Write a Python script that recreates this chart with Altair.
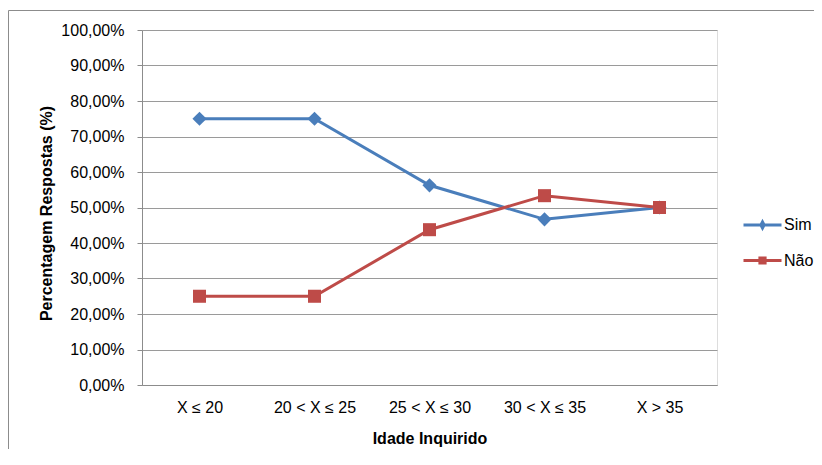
import altair as alt
import pandas as pd

categories = ["X ≤ 20", "20 < X ≤ 25", "25 < X ≤ 30", "30 < X  ≤ 35", "X > 35"]
series_names = ["Sim", "Não"]
sim_values = [75.0, 75.0, 56.25, 46.67, 50.0]
nao_values = [25.0, 25.0, 43.75, 53.33, 50.0]
y_ticks = [0, 10, 20, 30, 40, 50, 60, 70, 80, 90, 100]
colors = ["#4A7EBB", "#BE4B48"]

rows = []
for i, (c, s, n) in enumerate(zip(categories, sim_values, nao_values)):
    rows.append({"Idade": c, "Serie": "Sim", "Valor": s, "idx": i})
    rows.append({"Idade": c, "Serie": "Não", "Valor": n, "idx": i})
df = pd.DataFrame(rows)

FONT = "Liberation Sans"

x_enc = alt.X(
    "Idade:N",
    sort=categories,
    scale=alt.Scale(type="point", padding=0.5),
    axis=alt.Axis(
        title="Idade Inquirido",
        titleFont=FONT, titleFontSize=16, titleFontWeight="bold", titleColor="#000000",
        titleX=287.5, titleY=53, titleAlign="center", titleBaseline="middle",
        labelFont=FONT, labelFontSize=16, labelColor="#000000", labelAngle=0,
        labelPadding=14, ticks=False, grid=False,
        domainColor="#8c8c8c", domainWidth=1,
    ),
)
y_enc = alt.Y(
    "Valor:Q",
    scale=alt.Scale(domain=[0, 100], nice=False),
    axis=alt.Axis(
        title="Percentagem Respostas (%)",
        titleFont=FONT, titleFontSize=16, titleFontWeight="bold", titleColor="#000000",
        titleX=-96, titleY=183, titleAlign="center", titleBaseline="middle", titleAngle=270,
        values=y_ticks, tickCount=11, labelOverlap=False,
        labelExpr="replace(format(datum.value, '.2f'), '.', ',') + '%'",
        labelFont=FONT, labelFontSize=16, labelColor="#000000",
        labelPadding=13, tickSize=5, tickColor="#8c8c8c",
        grid=True, gridColor="#9a9a9a", gridWidth=1,
        domainColor="#8c8c8c", domainWidth=1,
    ),
)

color_scale = alt.Scale(domain=series_names, range=colors)

sym_sim = "M-1.9,0H1.9M0,-0.3L0.16,0L0,0.3L-0.16,0Z"
sym_nao = "M-1.9,0H1.9M-0.26,-0.26H0.26V0.26H-0.26Z"
leg = alt.Legend(
    title=None, orient="none", legendX=609, legendY=183.5,
    labelFont=FONT, labelFontSize=16, labelColor="#000000",
    symbolSize=400, symbolStrokeWidth=3, symbolOpacity=1,
    rowPadding=14.5, labelOffset=10, padding=0,
)

lines = alt.Chart(df).mark_line(strokeWidth=3).encode(
    x=x_enc, y=y_enc,
    stroke=alt.Stroke("Serie:N", scale=color_scale, legend=leg),
    order=alt.Order("idx:Q"),
)

pts_sim = alt.Chart(df).transform_filter(alt.datum.Serie == "Sim").mark_point(
    shape="diamond", filled=True, size=200, opacity=1
).encode(
    x=x_enc, y=y_enc,
    fill=alt.Fill("Serie:N", scale=color_scale, legend=leg),
)
pts_nao = alt.Chart(df).transform_filter(alt.datum.Serie == "Não").mark_point(
    shape="square", filled=True, size=170, opacity=1
).encode(
    x=x_enc, y=y_enc,
    fill=alt.Fill("Serie:N", scale=color_scale, legend=leg),
)

legend_df = pd.DataFrame({"Serie": series_names, "Idade": [categories[0]] * 2, "Valor": [-50.0, -50.0]})
legend_layer = alt.Chart(legend_df).mark_point(
    clip=True, filled=True, size=400, opacity=1, strokeWidth=3
).encode(
    x=x_enc,
    y=y_enc,
    fill=alt.Fill("Serie:N", scale=color_scale, legend=leg),
    stroke=alt.Stroke("Serie:N", scale=color_scale, legend=leg),
    shape=alt.Shape(
        "Serie:N",
        scale=alt.Scale(domain=series_names, range=[sym_sim, sym_nao]),
        legend=leg,
    ),
)

frame_df = pd.DataFrame({"k": [0]})
frame_left = alt.Chart(frame_df).mark_rule(color="#8c8c8c", strokeWidth=1).encode(
    x=alt.value(-133.5), y=alt.value(-19.5), y2=alt.value(440)
)
frame_top = alt.Chart(frame_df).mark_rule(color="#8c8c8c", strokeWidth=1).encode(
    x=alt.value(-133.5), x2=alt.value(700), y=alt.value(-19.5)
)

chart = alt.layer(frame_left, frame_top, lines, pts_sim, pts_nao, legend_layer).properties(
    width=575,
    height=355,
    autosize=alt.AutoSizeParams(type="none"),
    padding={"left": 134, "top": 22, "right": 97, "bottom": 64},
).configure_view(stroke=None).configure(background="#ffffff")

chart.save("out.html", embed_options={"renderer": "svg", "actions": False})
